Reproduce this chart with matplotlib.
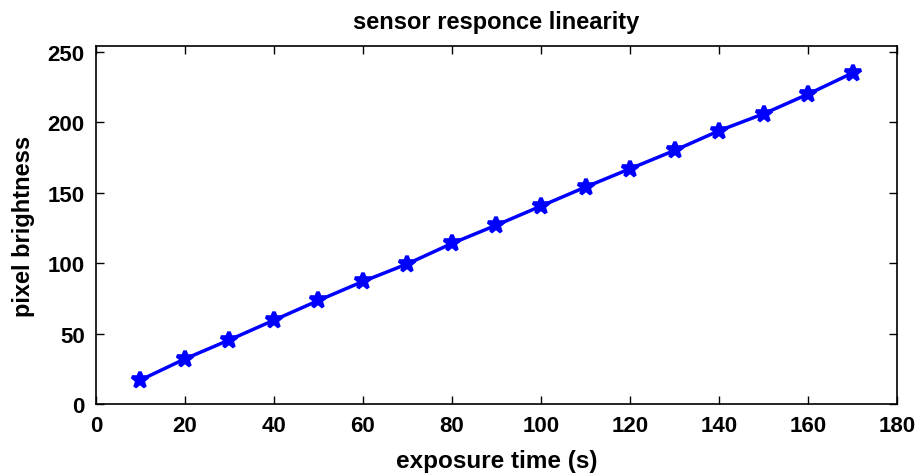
import matplotlib
matplotlib.use("Agg")
import matplotlib.pyplot as plt

exposure_time = [10, 20, 30, 40, 50, 60, 70, 80, 90, 100, 110, 120, 130, 140, 150, 160, 170]
pixel_brightness = [17, 32, 45.5, 59.5, 73.5, 87, 99.5, 114, 127, 140.5, 154, 167, 180, 194, 206, 220, 235]
x_ticks = [0, 20, 40, 60, 80, 100, 120, 140, 160, 180]
y_ticks = [0, 50, 100, 150, 200, 250]

plt.rcParams["font.family"] = ["Liberation Sans", "DejaVu Sans"]
plt.rcParams["font.weight"] = "bold"

fig = plt.figure(figsize=(9.22, 4.77), dpi=100)
ax = fig.add_axes([0.104, 0.151, 0.869, 0.750])

ax.plot(exposure_time, pixel_brightness, color="#0000ff", linewidth=2.5,
        marker="*", markersize=12, markeredgewidth=2.6)

ax.set_xlim(0, 180)
ax.set_ylim(0, 254)
ax.set_xticks(x_ticks)
ax.set_yticks(y_ticks)
ax.tick_params(direction="in", top=True, right=True, length=5.8, width=1,
               labelsize=16)
ax.tick_params(axis="x", pad=8)
ax.tick_params(axis="y", pad=8)
for lab in ax.get_xticklabels() + ax.get_yticklabels():
    lab.set_fontweight("bold")
for s in ax.spines.values():
    s.set_linewidth(1.2)

ax.set_xlabel("exposure time (s)", fontsize=17.5, fontweight="bold", labelpad=9)
ax.set_ylabel("pixel brightness", fontsize=17, fontweight="bold", labelpad=9)
ax.set_title("sensor responce linearity", fontsize=17, fontweight="bold", pad=13)

fig.savefig("out.png", dpi=100)
